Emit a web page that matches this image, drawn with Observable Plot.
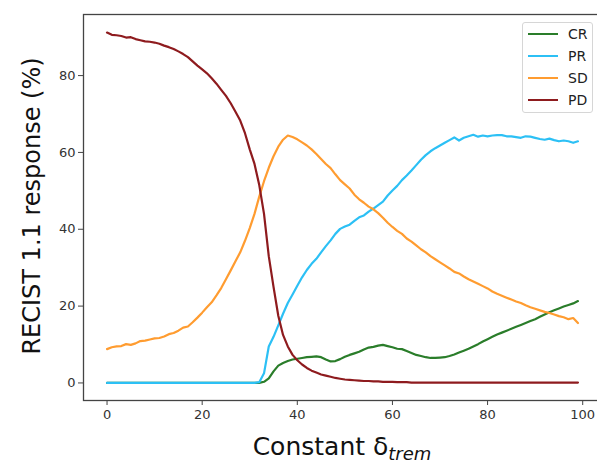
<!DOCTYPE html>
<html>
<head>
<meta charset="utf-8">
<script src="https://cdn.jsdelivr.net/npm/d3@7"></script>
<script src="https://cdn.jsdelivr.net/npm/@observablehq/plot@0.6"></script>
<style>
  html, body { margin: 0; padding: 0; background: #fff; overflow: hidden; }
  #wrap { position: relative; width: 597px; height: 463px; overflow: hidden; font-family: "DejaVu Sans", sans-serif; }
  #wrap svg { max-width: none !important; }
  #legend { position: absolute; left: 522px; top: 22px; width: 71px; height: 91px; border: 1px solid #d6d6d6; border-radius: 3px; background: rgba(255,255,255,0.85); box-sizing: border-box; font-size: 14px; color: #222; }
  .row { position: absolute; left: 5px; height: 20px; display: flex; align-items: center; }
  .sw { width: 30px; height: 2.5px; margin-right: 10px; }
</style>
</head>
<body>
<div id="wrap"></div>
<script>
const series = ["CR", "PR", "SD", "PD"];
const colors = ["#2a7d2a", "#2cc0f5", "#ff9c30", "#8e1b1e"];
const xTicks = [0, 20, 40, 60, 80, 100];
const yTicks = [0, 20, 40, 60, 80];

const CR = [0,0,0,0,0,0,0,0,0,0, 0,0,0,0,0,0,0,0,0,0, 0,0,0,0,0,0,0,0,0,0, 0,0,0,0.3,1.2,3.0,4.5,5.2,5.7,6.1,
  6.3,6.5,6.7,6.8,6.9,6.7,6.1,5.6,5.7,6.2, 6.8,7.3,7.7,8.1,8.7,9.2,9.4,9.7,9.9,9.6,
  9.3,8.9,8.8,8.3,7.8,7.3,7.0,6.7,6.5,6.5, 6.6,6.7,7.0,7.4,7.9,8.4,8.9,9.5,10.1,10.8,
  11.4,12.0,12.6,13.1,13.6,14.1,14.6,15.1,15.6,16.1, 16.6,17.2,17.8,18.4,18.9,19.4,19.9,20.3,20.7,21.3];
const PR = [0,0,0,0,0,0,0,0,0,0, 0,0,0,0,0,0,0,0,0,0, 0,0,0,0,0,0,0,0,0,0, 0,0,0.2,2.5,9.5,12.0,15.0,18.0,20.8,23.0,
  25.3,27.5,29.4,31.0,32.3,34.0,35.6,37.1,38.8,40.1, 40.7,41.2,42.2,43.1,43.6,44.6,45.4,46.3,47.2,48.8,
  50.1,51.3,52.8,54.0,55.3,56.7,58.1,59.3,60.3,61.1, 61.8,62.5,63.2,63.9,63.1,63.8,64.2,64.6,64.1,64.4,
  64.2,64.4,64.5,64.5,64.2,64.2,64.0,63.8,64.2,64.1, 63.8,63.5,63.3,63.6,63.2,62.9,63.1,62.9,62.5,62.9];
const SD = [8.8,9.3,9.5,9.6,10.1,9.9,10.3,10.9,11.0,11.3, 11.6,11.7,12.1,12.7,13.0,13.6,14.4,14.7,15.8,17.0,
  18.3,19.7,21.0,22.8,24.7,27.0,29.3,31.7,34.0,37.0, 40.3,44.0,48.5,52.5,56.0,59.0,61.5,63.3,64.4,64.0,
  63.4,62.6,61.8,60.8,59.6,58.3,57.0,55.9,54.3,52.8, 51.7,50.6,49.0,47.8,46.9,45.9,45.2,44.2,43.0,41.7,
  40.6,39.6,38.8,37.6,36.8,35.8,34.8,34.0,33.0,32.2, 31.4,30.6,29.8,28.9,28.5,27.7,27.0,26.4,25.8,25.2,
  24.6,23.8,23.2,22.7,22.2,21.7,21.2,20.8,20.2,19.7, 19.3,18.9,18.5,18.2,17.8,17.4,17.1,16.6,16.9,15.6];
const PD = [91.2,90.6,90.5,90.3,89.9,90.0,89.5,89.2,88.9,88.8, 88.6,88.3,87.8,87.4,86.9,86.3,85.6,84.8,83.7,82.6,
  81.6,80.6,79.3,77.9,76.3,74.7,72.8,70.6,68.3,65.0, 60.8,57.0,51.5,44.0,33.0,25.0,17.5,12.5,9.5,7.3,
  5.9,4.8,3.9,3.2,2.7,2.2,1.9,1.6,1.3,1.1, 0.9,0.8,0.7,0.6,0.5,0.5,0.4,0.4,0.3,0.3,
  0.3,0.2,0.2,0.2,0.1,0.1,0.1,0.1,0.1,0.1, 0.1,0.1,0.1,0.1,0.1,0.1,0.1,0.1,0.1,0.1,
  0.1,0.1,0.1,0.1,0.1,0.1,0.1,0.1,0.1,0.1, 0.1,0.1,0.1,0.1,0.1,0.1,0.1,0.1,0.1,0.1];

const valuesBySeries = {CR, PR, SD, PD};
const data = series.flatMap(s => valuesBySeries[s].map((v, i) => ({x: i, y: v, s})));

const chart = Plot.plot({
  width: 602,
  height: 463,
  marginLeft: 83,
  marginRight: 1,
  marginTop: 14,
  marginBottom: 63,
  style: {fontFamily: "DejaVu Sans, sans-serif", fontSize: "13px", color: "#333", background: "#fff", maxWidth: "none"},
  x: {domain: [-4.95, 103.95], ticks: xTicks, label: null, tickSize: 5, tickPadding: 4},
  y: {domain: [-4.57, 95.9], ticks: yTicks, label: null, tickSize: 5, tickPadding: 3},
  color: {domain: series, range: colors},
  marks: [
    Plot.line(data, {x: "x", y: "y", z: "s", stroke: "s", strokeWidth: 2.2, curve: "linear"}),
    Plot.frame({stroke: "#444", strokeWidth: 1.3})
  ]
});

const svg = d3.select(chart);
svg.selectAll("[aria-label='x-axis tick'], [aria-label='y-axis tick']").attr("stroke", "#444");
// y-axis title
svg.append("text")
  .attr("transform", "translate(40,206) rotate(-90)")
  .attr("text-anchor", "middle")
  .attr("font-family", "DejaVu Sans, sans-serif")
  .attr("font-size", 24)
  .attr("fill", "#111")
  .text("RECIST 1.1 response (%)");
// x-axis title with subscript
const xt = svg.append("text")
  .attr("x", 342).attr("y", 455)
  .attr("text-anchor", "middle")
  .attr("font-family", "DejaVu Sans, sans-serif")
  .attr("font-size", 25)
  .attr("fill", "#111");
xt.append("tspan").text("Constant δ");
xt.append("tspan").attr("font-size", 18).attr("font-style", "italic").attr("dy", 5).text("trem");

const wrap = document.getElementById("wrap");
wrap.appendChild(chart);

const legend = document.createElement("div");
legend.id = "legend";
series.forEach((s, i) => {
  const row = document.createElement("div");
  row.className = "row";
  row.style.top = (1 + i * 22) + "px";
  const sw = document.createElement("div");
  sw.className = "sw";
  sw.style.background = colors[i];
  const t = document.createElement("span");
  t.textContent = s;
  row.appendChild(sw);
  row.appendChild(t);
  legend.appendChild(row);
});
wrap.appendChild(legend);
</script>
</body>
</html>
